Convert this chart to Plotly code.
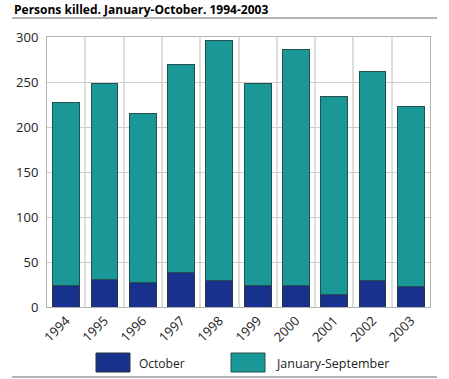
import plotly.graph_objects as go

years = [1994, 1995, 1996, 1997, 1998, 1999, 2000, 2001, 2002, 2003]
october = [24, 31, 27, 38, 29, 24, 24, 14, 30, 23]
jan_sep = [203, 217, 188, 231, 267, 224, 262, 220, 232, 200]
series_names = ["October", "January-September"]
title_text = "Persons killed. January-October. 1994-2003"

W, H = 449, 379
L, R, T, B = 47, 430, 37, 307

def px(x):
    return (x - L) / (R - L)

def py(y):
    return (B - y) / (B - T)

col_oct = "#17318c"
col_js = "#1a9898"

fig = go.Figure()
fig.add_trace(go.Bar(x=years, y=october, name=series_names[0], marker=dict(color=col_oct, line=dict(color="#2b3340", width=1))))
fig.add_trace(go.Bar(x=years, y=jan_sep, name=series_names[1], marker=dict(color=col_js, line=dict(color="#24504f", width=1))))

font = "Open Sans, DejaVu Sans, sans-serif"

shapes = [
    dict(type="line", xref="paper", yref="paper", x0=px(12), x1=px(437), y0=py(18), y1=py(18), line=dict(color="#b4b4b4", width=2)),
    dict(type="line", xref="paper", yref="paper", x0=px(12), x1=px(437), y0=py(377), y1=py(377), line=dict(color="#b4b4b4", width=2)),
    dict(type="rect", xref="paper", yref="paper", x0=px(96), x1=px(130), y0=py(353), y1=py(372), fillcolor=col_oct, line=dict(color="#2b3340", width=1)),
    dict(type="rect", xref="paper", yref="paper", x0=px(231), x1=px(265), y0=py(353), y1=py(372), fillcolor=col_js, line=dict(color="#24504f", width=1)),
]
annotations = [
    dict(text="<b>" + title_text + "</b>", xref="paper", yref="paper", x=px(12), y=py(10), xanchor="left", yanchor="middle", showarrow=False, font=dict(size=12, color="#000", family=font)),
    dict(text=series_names[0], xref="paper", yref="paper", x=px(137), y=py(363), xanchor="left", yanchor="middle", showarrow=False, font=dict(size=12, color="#222", family=font)),
    dict(text=series_names[1], xref="paper", yref="paper", x=px(274), y=py(363), xanchor="left", yanchor="middle", showarrow=False, font=dict(size=12.5, color="#222", family=font)),
]

fig.update_layout(
    width=W, height=H,
    margin=dict(l=L, r=W - R, t=T, b=H - B, pad=0),
    barmode="stack", bargap=0.3,
    plot_bgcolor="white", paper_bgcolor="white",
    showlegend=False,
    font=dict(family=font, size=13, color="#222"),
    shapes=shapes, annotations=annotations,
    xaxis=dict(
        range=[1993.5, 2003.5], tickvals=years, ticktext=[str(y) for y in years],
        tickangle=-45, showgrid=False, showline=True, linecolor="#b4b4b4", linewidth=1, mirror=True,
        ticks="", zeroline=False, fixedrange=True,
        minor=dict(tick0=1993.5, dtick=1, showgrid=True, gridcolor="#dedede", gridwidth=2, ticks=""),
        tickfont=dict(size=13, color="#222"),
    ),
    yaxis=dict(
        range=[0, 300], tickvals=[0, 50, 100, 150, 200, 250, 300],
        showgrid=True, gridcolor="#cccccc", gridwidth=1, showline=True, linecolor="#b4b4b4", linewidth=1, mirror=True,
        zeroline=False, ticks="outside", ticklen=5, tickcolor="white", fixedrange=True,
        tickfont=dict(size=13, color="#222"),
    ),
)

fig.write_html("out.html", config={"displayModeBar": False},
               post_script="document.body.style.margin='0px';document.body.style.overflow='hidden';")
